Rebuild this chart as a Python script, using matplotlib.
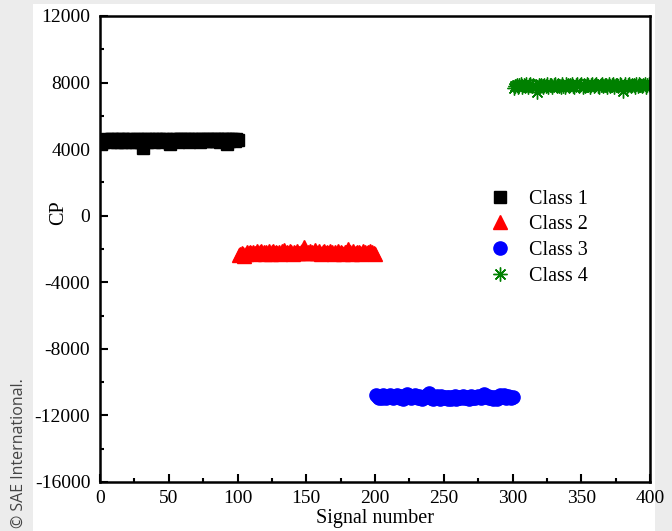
import numpy as np
import matplotlib

matplotlib.use("Agg")
import matplotlib.pyplot as plt
from matplotlib.patches import Rectangle

# ── data ──────────────────────────────────────────────────────────────
class1_cp = [
    4330, 4420, 4560, 4470, 4600, 4500, 4440, 4580, 4620, 4470,
    4550, 4420, 4600, 4500, 4450, 4580, 4630, 4440, 4520, 4600,
    4460, 4560, 4430, 4610, 4500, 4420, 4590, 4470, 4600, 4440,
    4080, 4520, 4590, 4450, 4620, 4540, 4460, 4600, 4430, 4520,
    4590, 4460, 4630, 4540, 4440, 4590, 4500, 4610, 4470, 4430,
    4300, 4540, 4600, 4460, 4630, 4500, 4440, 4580, 4610, 4500,
    4460, 4600, 4540, 4630, 4440, 4500, 4590, 4620, 4460, 4540,
    4600, 4500, 4440, 4610, 4540, 4630, 4460, 4590, 4500, 4600,
    4540, 4460, 4620, 4500, 4590, 4610, 4440, 4540, 4600, 4500,
    4630, 4330, 4590, 4460, 4610, 4540, 4620, 4500, 4600, 4560,
]
class2_cp = [
    -2380, -2300, -2260, -2330, -2430, -2280, -2200, -2270, -2160, -2250,
    -2190, -2290, -2230, -2150, -2270, -2200, -2140, -2260, -2190, -2290,
    -2160, -2240, -2150, -2280, -2190, -2140, -2260, -2170, -2240, -2190,
    -2280, -2150, -2220, -2040, -2260, -2170, -2240, -2140, -2200, -2280,
    -2170, -2240, -2150, -2220, -2270, -2170, -2120, -1860, -2140, -2230,
    -2170, -2270, -2150, -2200, -2250, -2060, -2170, -2270, -2150, -2220,
    -2280, -2170, -2140, -2250, -2200, -2270, -2150, -2230, -2170, -2290,
    -2200, -2250, -2150, -2270, -2170, -2230, -2300, -2170, -2200, -2020,
    -2250, -2170, -2290, -2150, -2230, -2270, -2170, -2200, -2250, -2300,
    -2150, -2230, -2170, -2270, -2200, -2150, -2250, -2170, -2230, -2280,
]
class3_cp = [
    -10780, -10900, -10980, -10850, -10930, -10800, -10880, -10970, -10830, -10920,
    -10760, -10860, -10960, -10820, -10910, -10790, -10880, -10940, -10840, -10990,
    -10900, -10820, -10700, -10790, -10880, -10940, -10840, -10920, -10800, -10900,
    -10970, -10850, -10940, -11010, -10880, -10820, -10920, -10790, -10680, -10850,
    -10930, -11000, -10880, -10960, -10840, -10920, -10990, -10860, -10940, -10900,
    -10970, -10870, -11000, -10910, -11010, -10890, -10950, -10860, -10990, -10930,
    -10870, -10970, -10890, -10830, -10940, -10870, -10950, -11000, -10910, -10850,
    -10940, -10870, -10980, -10890, -10830, -10920, -10960, -10850, -10740, -10810,
    -10900, -10820, -10940, -10980, -10870, -11000, -10890, -10950, -11010, -10870,
    -10800, -10900, -10850, -10780, -10940, -10870, -10830, -10920, -10970, -10890,
]
class4_cp = [
    7700, 7780, 7880, 7740, 7830, 7900, 7760, 7860, 7800, 7890,
    7740, 7840, 7910, 7770, 7860, 7720, 7820, 7450, 7880, 7780,
    7850, 7730, 7870, 7800, 7900, 7760, 7830, 7880, 7740, 7850,
    7910, 7780, 7870, 7800, 7740, 7890, 7820, 7760, 7900, 7840,
    7780, 7870, 7920, 7800, 7740, 7850, 7900, 7780, 7830, 7890,
    7760, 7870, 7800, 7910, 7850, 7740, 7830, 7890, 7780, 7870,
    7900, 7800, 7760, 7850, 7910, 7780, 7870, 7830, 7740, 7890,
    7800, 7850, 7900, 7760, 7830, 7870, 7780, 7910, 7850, 7470,
    7800, 7890, 7760, 7830, 7900, 7780, 7870, 7850, 7740, 7890,
    7800, 7910, 7830, 7780, 7870, 7900, 7760, 7850, 7890, 7800,
]
labels = ["Class 1", "Class 2", "Class 3", "Class 4"]

signal_1 = np.arange(1, 101)
signal_2 = np.arange(101, 201)
signal_3 = np.arange(201, 301)
signal_4 = np.arange(301, 401)

plt.rcParams["font.family"] = ["Liberation Serif", "DejaVu Serif"]
plt.rcParams["axes.unicode_minus"] = False

fig = plt.figure(figsize=(6.72, 5.31), dpi=100, facecolor="#ececec")
# white page panel behind the chart
fig.add_artist(Rectangle((33 / 672, 0), (655 - 33) / 672, 1 - 4 / 531,
                         transform=fig.transFigure, facecolor="white",
                         edgecolor="none", zorder=-10))

ax = fig.add_axes([100 / 672, 1 - 482 / 531, 550 / 672, 466 / 531])
ax.set_facecolor("white")

ax.plot(signal_1, class1_cp, ls="none", marker="s", ms=8.5, color="black", label=labels[0])
ax.plot(signal_2, class2_cp, ls="none", marker="^", ms=10, color="red", mec="red", label=labels[1])
ax.plot(signal_3, class3_cp, ls="none", marker="o", ms=9.5, color="blue", label=labels[2])
ax.plot(signal_4, class4_cp, ls="none", marker=(8, 2, 0), ms=10, color="#008000",
        mew=1.0, label=labels[3])

ax.set_xlim(0, 400)
ax.set_ylim(-16000, 12000)
ax.set_xticks(np.arange(0, 401, 50))
ax.set_xticks(np.arange(25, 400, 50), minor=True)
ax.set_yticks(np.arange(-16000, 12001, 4000))
ax.set_yticks(np.arange(-14000, 12000, 4000), minor=True)

ax.tick_params(which="both", direction="in", top=False, right=False,
               labelsize=14, width=1.5)
ax.tick_params(axis="y", which="both", pad=7)
ax.tick_params(axis="x", which="both", pad=6)
ax.tick_params(which="major", length=6)
ax.tick_params(which="minor", length=3)
for s in ax.spines.values():
    s.set_linewidth(1.8)

ax.set_xlabel("Signal number", fontsize=14.5)
ax.set_ylabel("CP", fontsize=14.5)
ax.xaxis.set_label_coords(0.5, -0.059)
ax.yaxis.set_label_coords(-0.058, 0.577)

ax.legend(loc="upper left", bbox_to_anchor=(0.695, 0.645), frameon=False,
          fontsize=14.5, handlelength=1.0, handletextpad=0.9,
          labelspacing=0.33, borderaxespad=0)

fig.text(19 / 672, 3 / 531, "\u00a9 SAE International.", rotation=90,
         ha="center", va="bottom", fontsize=11.5, color="#444444",
         family=["Open Sans", "DejaVu Sans"])

fig.savefig("out.png", dpi=100, facecolor=fig.get_facecolor())
